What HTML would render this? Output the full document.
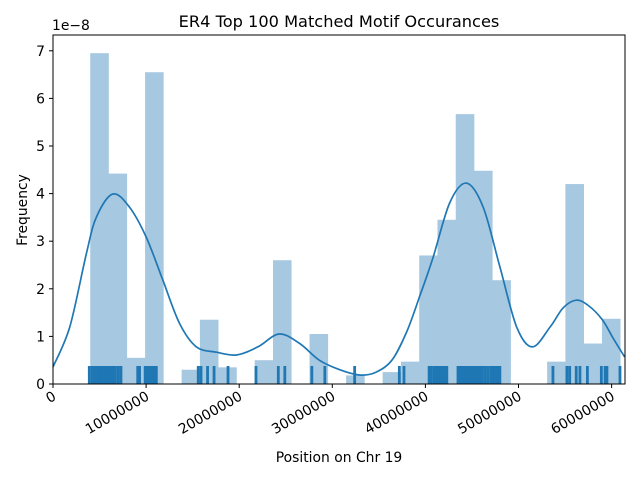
<!DOCTYPE html>
<html><head><meta charset="utf-8"><style>
body{margin:0;background:#fff;}
svg{display:block;font-family:"DejaVu Sans","Liberation Sans",sans-serif;}
</style></head><body>
<svg id="chart" width="640" height="480">
<text x="339" y="27" text-anchor="middle" font-size="16.2">ER4 Top 100 Matched Motif Occurances</text>
<text x="52" y="30" font-size="13.9">1e−8</text>
<text transform="translate(27,210) rotate(-90)" text-anchor="middle" font-size="13.9">Frequency</text>
<text x="339" y="462" text-anchor="middle" font-size="13.9">Position on Chr 19</text>
<g id="bars"></g>
<g id="rug"></g>
<path id="kde" fill="none" stroke="#1f77b4" stroke-width="1.7"></path>
<g id="xt"></g>
<g id="yt"></g>
<rect x="53" y="35" width="572" height="349" fill="none" stroke="#000" stroke-width="1"></rect>
</svg>
<script>
// histogram: bin start (millions) and heights (1e-8)
const binStart = 4.0;
const binWidth = 1.963;
const binHeights = [6.95,4.42,0.55,6.55,0,0.3,1.35,0.35,0,0.5,2.6,0,1.05,0,0.18,0,0.25,0.47,2.7,3.45,5.67,4.48,2.18,0,0,0.47,4.2,0.85,1.37];
const rugPositions = [3.9,4.2,4.5,4.7,4.9,5.1,5.3,5.5,5.7,5.9,6.1,6.3,6.5,6.7,7.0,7.3,9.1,9.3,9.9,10.1,10.3,10.5,10.7,10.9,11.1,15.6,15.9,16.6,17.3,18.8,21.8,24.2,24.9,27.8,29.2,32.4,37.2,37.7,40.4,40.6,40.9,41.1,41.3,41.5,41.7,41.9,42.1,42.3,43.5,43.7,43.9,44.1,44.3,44.5,44.7,44.9,45.1,45.3,45.5,45.7,45.9,46.1,46.4,46.7,47.0,47.2,47.4,47.6,47.8,48.0,53.7,55.2,55.5,56.2,56.6,57.4,58.9,59.3,59.5,60.9];
const kdeX = [0,1.8,3.6,4.65,6.4,8.2,10.0,11.8,13.6,15.4,17.5,19.7,22,24.3,26.5,28.6,30.8,32.9,34.6,36.4,38.0,39.4,40.8,42.6,44.4,46.2,48.0,49.8,51.5,53.4,54.8,56.2,57.5,59.0,60.2,61.4];
const kdeY = [0.36,1.2,2.75,3.5,3.99,3.72,3.09,2.18,1.27,0.78,0.67,0.61,0.78,1.05,0.85,0.5,0.3,0.19,0.24,0.5,1.1,1.85,2.64,3.8,4.22,3.72,2.46,1.2,0.78,1.2,1.6,1.76,1.65,1.35,0.95,0.57];
const xTicks = [0,10,20,30,40,50,60];
const xTickLabels = ["0","10000000","20000000","30000000","40000000","50000000","60000000"];
const yTicks = [0,1,2,3,4,5,6,7];

const NS="http://www.w3.org/2000/svg";
const X = v => 53 + v*9.31;
const Y = v => 384 - v*47.6;
function mk(tag, attrs, parent){const e=document.createElementNS(NS,tag);for(const k in attrs)e.setAttribute(k,attrs[k]);parent.appendChild(e);return e;}
const bars=document.getElementById('bars');
binHeights.forEach((h,i)=>{
  if(h<=0) return;
  const x0=X(binStart+i*binWidth), x1=X(binStart+(i+1)*binWidth);
  const r=mk('rect',{x:x0,y:Y(h),width:x1-x0+0.3,height:384-Y(h),fill:'#a6c8e0'},bars);
  
  
});
const rug=document.getElementById('rug');
rugPositions.forEach(p=>{
  const l=mk('line',{x1:X(p),x2:X(p),y1:366,y2:384,stroke:'#1f77b4','stroke-width':2.8},rug);
  
  
});
// smooth catmull-rom path
const pts=kdeX.map((x,i)=>[X(x),Y(kdeY[i])]);
let d='M'+pts[0][0].toFixed(1)+','+pts[0][1].toFixed(1);
for(let i=0;i<pts.length-1;i++){
  const p0=pts[Math.max(0,i-1)],p1=pts[i],p2=pts[i+1],p3=pts[Math.min(pts.length-1,i+2)];
  const c1=[p1[0]+(p2[0]-p0[0])/6,p1[1]+(p2[1]-p0[1])/6];
  const c2=[p2[0]-(p3[0]-p1[0])/6,p2[1]-(p3[1]-p1[1])/6];
  d+=` C${c1[0].toFixed(1)},${c1[1].toFixed(1)} ${c2[0].toFixed(1)},${c2[1].toFixed(1)} ${p2[0].toFixed(1)},${p2[1].toFixed(1)}`;
}
document.getElementById('kde').setAttribute('d', d);
const xt=document.getElementById('xt');
xTicks.forEach((t,i)=>{
  mk('line',{x1:X(t),x2:X(t),y1:384,y2:388,stroke:'#000'},xt);
  const tx=mk('text',{x:X(t)+4,y:399,'text-anchor':'end','font-size':13.9,transform:`rotate(-30 ${X(t)+4} 399)`},xt);
  tx.textContent=xTickLabels[i];
  
  
});
const yt=document.getElementById('yt');
yTicks.forEach(t=>{
  mk('line',{x1:49,x2:53,y1:Y(t),y2:Y(t),stroke:'#000'},yt);
  const tx=mk('text',{x:45,y:Y(t)+5,'text-anchor':'end','font-size':13.9},yt);
  tx.textContent=t;
  
  
});
</script>
</body></html>
